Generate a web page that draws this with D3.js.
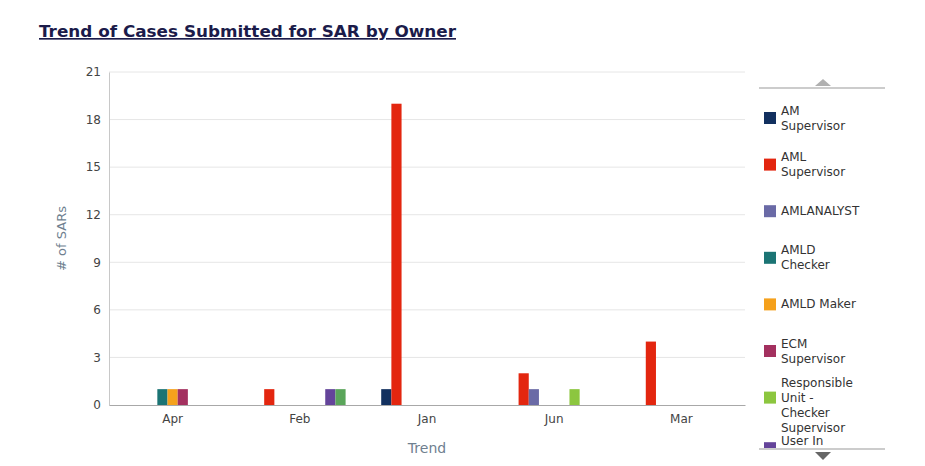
<!DOCTYPE html>
<html>
<head>
<meta charset="utf-8">
<script src="https://cdn.jsdelivr.net/npm/d3@7"></script>
<style>
body { margin: 0; background: #fff; }
text { font-family: "DejaVu Sans", Verdana, sans-serif; }
</style>
</head>
<body>
<div id="chart"></div>
<script>
// sar trend by owner
var w = 925, h = 466;
var months = ["Apr", "Feb", "Jan", "Jun", "Mar"];
var owners = ["AM Supervisor", "AML Supervisor", "AMLANALYST", "AMLD Checker", "AMLD Maker",
    "ECM Supervisor", "Responsible Unit - Checker Supervisor", "User In Review", "User Supervisor"];
var ownerLines = [["AM", "Supervisor"], ["AML", "Supervisor"], ["AMLANALYST"], ["AMLD", "Checker"], ["AMLD Maker"],
    ["ECM", "Supervisor"], ["Responsible", "Unit -", "Checker", "Supervisor"], ["User In", "Review"], ["User", "Supervisor"]];
var colors = ["#12305f", "#e3260f", "#6a6aa6", "#1b7474", "#f5a11c", "#a3305f", "#8cc63f", "#64449a", "#5aa55a"];
// one row per owner, values by month (Apr, Feb, Jan, Jun, Mar)
var values = [
    [0, 0, 1, 0, 0],
    [0, 1, 19, 2, 4],
    [0, 0, 0, 1, 0],
    [1, 0, 0, 0, 0],
    [1, 0, 0, 0, 0],
    [1, 0, 0, 0, 0],
    [0, 0, 0, 1, 0],
    [0, 1, 0, 0, 0],
    [0, 1, 0, 0, 0]
];
var yTicks = [0, 3, 6, 9, 12, 15, 18, 21];

var svg = d3.select("#chart").append("svg")
    .attr("width", w)
    .attr("height", h);

var pLeft = 109, pRight = 745, pTop = 72, pBottom = 405;

var x = d3.scaleBand().domain(months).range([pLeft, pRight]);
var xs = d3.scaleBand().domain(d3.range(owners.length))
    .range([0, x.bandwidth() * 0.72]);
var y = d3.scaleLinear().domain([0, 21]).range([pBottom, pTop]);

// title
svg.append("text")
    .attr("x", 39).attr("y", 37)
    .attr("font-size", 16.5)
    .attr("font-weight", "bold")
    .attr("fill", "#1b1b4a")
    .attr("text-decoration", "underline")
    .attr("textLength", 417)
    .attr("lengthAdjust", "spacingAndGlyphs")
    .text("Trend of Cases Submitted for SAR by Owner");

// grid
svg.append("g").selectAll("line")
    .data(yTicks.slice(1))
    .enter().append("line")
    .attr("x1", pLeft).attr("x2", pRight)
    .attr("y1", function(d) { return y(d); })
    .attr("y2", function(d) { return y(d); })
    .attr("stroke", "#e6e6e6");

var yAxis = svg.append("g")
    .attr("transform", "translate(" + pLeft + ",0)")
    .call(d3.axisLeft(y).tickValues(yTicks).tickSize(0).tickPadding(8));
yAxis.select(".domain").attr("stroke", "#c8c8c8");
yAxis.selectAll("text").attr("font-size", 12).attr("fill", "#444")
    .style("font-family", "DejaVu Sans, sans-serif");

var xAxis = svg.append("g")
    .attr("transform", "translate(0," + pBottom + ")")
    .call(d3.axisBottom(x).tickSize(0).tickPadding(9));
xAxis.select(".domain").attr("stroke", "#a8a8a8");
xAxis.selectAll("text").attr("font-size", 12).attr("fill", "#444")
    .style("font-family", "DejaVu Sans, sans-serif");

// bars
var bars = [];
values.forEach(function(row, s) {
    row.forEach(function(v, m) {
        if (v > 0) bars.push({ s: s, m: m, v: v });
    });
});
svg.append("g").selectAll("rect")
    .data(bars)
    .enter().append("rect")
    .attr("x", function(d) { return x(months[d.m]) + x.bandwidth() * 0.14 + xs(d.s); })
    .attr("width", xs.bandwidth())
    .attr("y", function(d) { return y(d.v); })
    .attr("height", function(d) { return y(0) - y(d.v); })
    .attr("fill", function(d) { return colors[d.s]; });

// axis titles
svg.append("text")
    .attr("transform", "translate(66," + (pTop + pBottom) / 2 + ") rotate(-90)")
    .attr("text-anchor", "middle")
    .attr("font-size", 13)
    .attr("fill", "#6f7f90")
    .text("# of SARs");
svg.append("text")
    .attr("x", (pLeft + pRight) / 2).attr("y", 453)
    .attr("text-anchor", "middle")
    .attr("font-size", 14)
    .attr("fill", "#6f7f90")
    .text("Trend");

// legend, scrolled view
var legX = 759, legW = 126;
svg.append("line").attr("x1", legX).attr("x2", legX + legW).attr("y1", 88).attr("y2", 88).attr("stroke", "#999");
svg.append("line").attr("x1", legX).attr("x2", legX + legW).attr("y1", 449).attr("y2", 449).attr("stroke", "#999");
svg.append("path").attr("d", "M815,86 L823,79 L831,86 Z").attr("fill", "#b0b0b0");
svg.append("path").attr("d", "M815,452 L831,452 L823,460 Z").attr("fill", "#666");

svg.append("clipPath").attr("id", "legclip")
    .append("rect").attr("x", legX).attr("y", 89).attr("width", legW).attr("height", 359);

var leg = svg.append("g").attr("clip-path", "url(#legclip)")
    .selectAll("g")
    .data(owners)
    .enter().append("g")
    .attr("transform", function(d, i) {
        return "translate(" + 764 + "," + (118 + i * 46.6 + (i > 6 ? 4 : 0)) + ")";
    });

leg.append("rect")
    .attr("x", 0).attr("y", -6)
    .attr("width", 12).attr("height", 12)
    .attr("fill", function(d, i) { return colors[i]; });

leg.append("text")
    .attr("font-size", 12)
    .attr("fill", "#333")
    .each(function(d, i) {
        var lines = ownerLines[i];
        var n = lines.length;
        var shift = n > 2 ? 7.5 : 0;
        var t = d3.select(this);
        lines.forEach(function(l, k) {
            t.append("tspan")
                .attr("x", 17)
                .attr("y", 4 + shift + (k - (n - 1) / 2) * 15)
                .text(l);
        });
    });
</script>
</body>
</html>
